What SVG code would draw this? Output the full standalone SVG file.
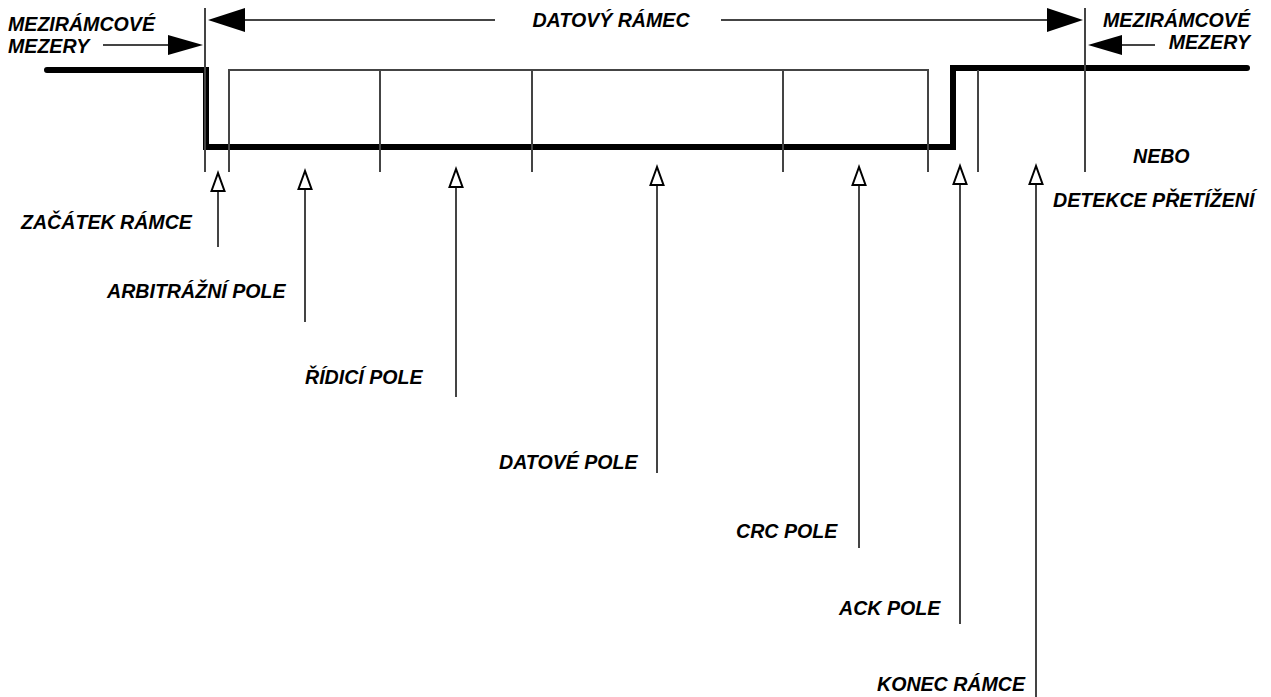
<svg xmlns="http://www.w3.org/2000/svg" width="1271" height="697" viewBox="0 0 1271 697">
<style>
.t{font-family:"Liberation Sans",Arial,sans-serif;font-weight:bold;font-style:italic;font-size:19.6px;fill:#000}
.thin{stroke:#444;stroke-width:2;fill:none}
.thick{stroke:#000;stroke-width:6;fill:none;stroke-linejoin:miter}
.fa{fill:#000;stroke:none}
.ha{fill:#fff;stroke:#000;stroke-width:2;stroke-linejoin:miter}
</style>
<rect width="1271" height="697" fill="#fff"/>
<g id="signal">
<path class="thick" d="M47,70 H206 V147 H953 V68 H1247" stroke-linecap="round"/>
</g>
<g id="frame">
<path class="thin" d="M229,172 V70 H928 V172"/>
<line class="thin" x1="205" y1="8" x2="205" y2="172"/>
<line class="thin" x1="380" y1="70" x2="380" y2="172"/>
<line class="thin" x1="532" y1="70" x2="532" y2="172"/>
<line class="thin" x1="783" y1="70" x2="783" y2="172"/>
<line class="thin" x1="978" y1="70" x2="978" y2="172"/>
<line class="thin" x1="1085" y1="8" x2="1085" y2="172"/>
</g>
<g id="connectors">
<line class="thin" x1="245" y1="20" x2="495" y2="20"/>
<line class="thin" x1="721" y1="20" x2="1047" y2="20"/>
<polygon class="fa" points="208,20 245,8 245,32"/>
<polygon class="fa" points="1083,20 1047,8 1047,32"/>
<line class="thin" x1="103" y1="45" x2="170" y2="45"/>
<polygon class="fa" points="203,45 168,35 168,55"/>
<line class="thin" x1="1120" y1="45" x2="1155" y2="45"/>
<polygon class="fa" points="1088,45 1122,35 1122,55"/>
<line class="thin" x1="218" y1="190" x2="218" y2="247"/>
<polygon class="ha" points="218,173 211.5,191 224.5,191"/>
<line class="thin" x1="305" y1="188" x2="305" y2="322"/>
<polygon class="ha" points="305,171 298.5,189 311.5,189"/>
<line class="thin" x1="456" y1="186" x2="456" y2="397"/>
<polygon class="ha" points="456,169 449.5,187 462.5,187"/>
<line class="thin" x1="657" y1="184" x2="657" y2="473"/>
<polygon class="ha" points="657,167 650.5,185 663.5,185"/>
<line class="thin" x1="859" y1="184" x2="859" y2="548"/>
<polygon class="ha" points="859,167 852.5,185 865.5,185"/>
<line class="thin" x1="960" y1="183" x2="960" y2="624"/>
<polygon class="ha" points="960,166 953.5,184 966.5,184"/>
<line class="thin" x1="1036" y1="183" x2="1036" y2="697"/>
<polygon class="ha" points="1036,166 1029.5,184 1042.5,184"/>
</g>
<g id="labels">
<text class="t" x="8" y="31">MEZIRÁMCOVÉ</text>
<text class="t" x="8" y="53">MEZERY</text>
<text class="t" x="611" y="27" text-anchor="middle">DATOVÝ RÁMEC</text>
<text class="t" x="1250" y="27" text-anchor="end">MEZIRÁMCOVÉ</text>
<text class="t" x="1250" y="49" text-anchor="end">MEZERY</text>
<text class="t" x="1133" y="163">NEBO</text>
<text class="t" x="1053" y="207">DETEKCE PŘETÍŽENÍ</text>
<text class="t" x="21" y="229">ZAČÁTEK RÁMCE</text>
<text class="t" x="107" y="298">ARBITRÁŽNÍ POLE</text>
<text class="t" x="305" y="384">ŘÍDICÍ POLE</text>
<text class="t" x="499" y="469">DATOVÉ POLE</text>
<text class="t" x="736" y="538">CRC POLE</text>
<text class="t" x="839" y="615">ACK POLE</text>
<text class="t" x="877" y="691">KONEC RÁMCE</text>
</g>
</svg>
